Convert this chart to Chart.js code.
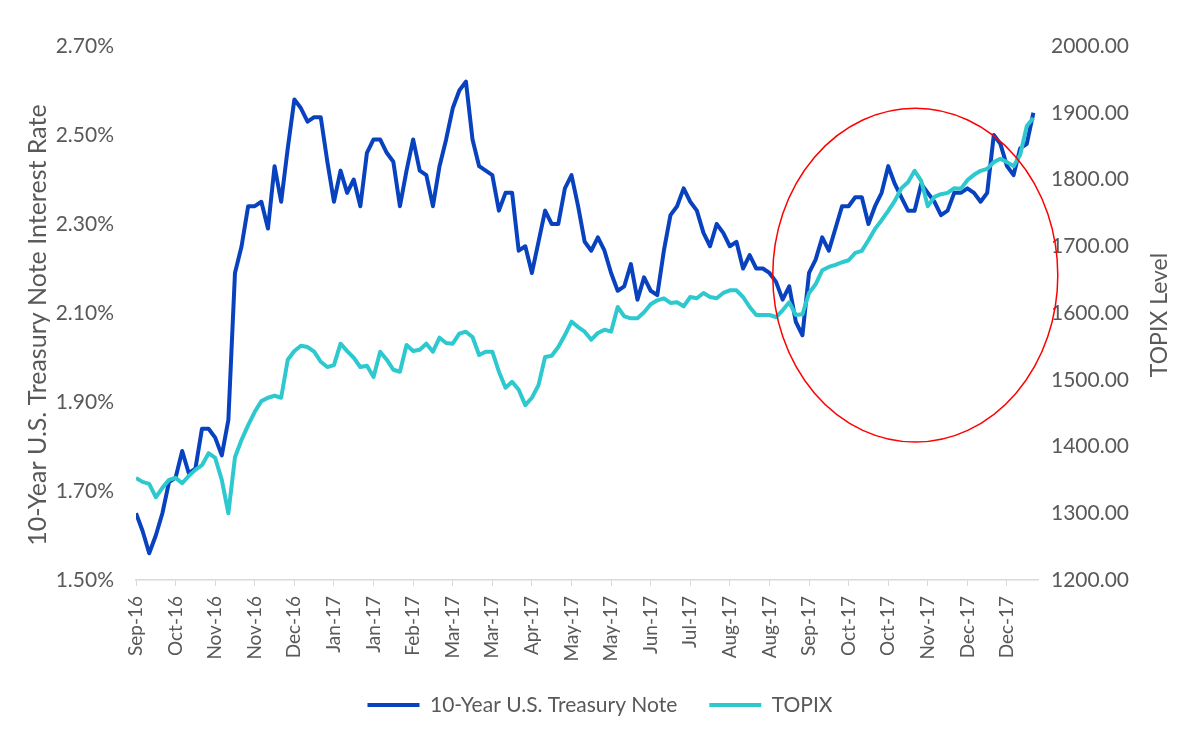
<!DOCTYPE html>
<html>
<head>
<meta charset="utf-8">
<script src="https://cdn.jsdelivr.net/npm/chart.js@4.4.1/dist/chart.umd.min.js"></script>
<style>
  html, body { margin: 0; padding: 0; background: #fff; }
  #wrap { width: 1200px; height: 742px; }
</style>
</head>
<body>
<div id="wrap"><canvas id="chart"></canvas></div>
<script>
// axis labels, one every 6 data points
const tickLabels = ['Sep-16', 'Oct-16', 'Nov-16', 'Nov-16', 'Dec-16', 'Jan-17', 'Jan-17', 'Feb-17',
    'Mar-17', 'Mar-17', 'Apr-17', 'May-17', 'May-17', 'Jun-17', 'Jul-17', 'Aug-17', 'Aug-17',
    'Sep-17', 'Oct-17', 'Oct-17', 'Nov-17', 'Dec-17', 'Dec-17'];
const pointsPerTick = 6;
const xMax = 136.7;

// 10-Year U.S. Treasury Note, % (left axis)
const treasuryRate = [
    1.65, 1.61, 1.56, 1.60, 1.65, 1.72, 1.73, 1.79, 1.74, 1.75,
    1.84, 1.84, 1.82, 1.78, 1.86, 2.19, 2.25, 2.34, 2.34, 2.35,
    2.29, 2.43, 2.35, 2.47, 2.58, 2.56, 2.53, 2.54, 2.54, 2.44,
    2.35, 2.42, 2.37, 2.40, 2.34, 2.46, 2.49, 2.49, 2.46, 2.44,
    2.34, 2.42, 2.49, 2.42, 2.41, 2.34, 2.43, 2.49, 2.56, 2.60,
    2.62, 2.49, 2.43, 2.42, 2.41, 2.33, 2.37, 2.37, 2.24, 2.25,
    2.19, 2.26, 2.33, 2.30, 2.30, 2.38, 2.41, 2.34, 2.26, 2.24,
    2.27, 2.24, 2.19, 2.15, 2.16, 2.21, 2.13, 2.18, 2.15, 2.14,
    2.24, 2.32, 2.34, 2.38, 2.35, 2.33, 2.28, 2.25, 2.30, 2.28,
    2.25, 2.26, 2.20, 2.23, 2.20, 2.20, 2.19, 2.17, 2.13, 2.16,
    2.08, 2.05, 2.19, 2.22, 2.27, 2.24, 2.29, 2.34, 2.34, 2.36,
    2.36, 2.30, 2.34, 2.37, 2.43, 2.39, 2.36, 2.33, 2.33, 2.39,
    2.37, 2.35, 2.32, 2.33, 2.37, 2.37, 2.38, 2.37, 2.35, 2.37,
    2.50, 2.48, 2.43, 2.41, 2.47, 2.48, 2.55
];

// TOPIX level (right axis)
const topixLevel = [
    1353, 1347, 1344, 1324, 1338, 1350, 1353, 1345, 1356, 1365,
    1372, 1390, 1383, 1350, 1300, 1384, 1410, 1432, 1452, 1468,
    1473, 1476, 1473, 1530, 1543, 1551, 1549, 1542, 1527, 1519,
    1522, 1554, 1543, 1533, 1519, 1521, 1504, 1542, 1530, 1515,
    1512, 1552, 1543, 1545, 1554, 1542, 1563, 1555, 1554, 1569,
    1572, 1564, 1537, 1542, 1542, 1512, 1488, 1497, 1485, 1462,
    1473, 1492, 1534, 1536, 1549, 1567, 1587, 1579, 1572, 1560,
    1570, 1575, 1572, 1609, 1595, 1592, 1592, 1601, 1613, 1619,
    1622, 1615, 1616, 1610, 1624, 1622, 1630, 1624, 1622, 1630,
    1634, 1634, 1624, 1609, 1597, 1597, 1597, 1594, 1604, 1616,
    1597, 1598, 1630, 1643, 1664, 1669, 1672, 1676, 1679, 1690,
    1693, 1709, 1726, 1739, 1753, 1768, 1787, 1796, 1813, 1798,
    1760, 1774, 1778, 1780, 1787, 1786, 1799, 1807, 1813, 1816,
    1826, 1831, 1826, 1820, 1837, 1880, 1892
];

// red highlight ellipse, in data units (x index, left-axis %)
const highlight = { x: 118.1, y: 2.185, rx: 21.6, ry: 0.375 };

const textColor = '#595959';
const fontFamily = 'Lato, "Open Sans", sans-serif';
const tickFont = { family: fontFamily, size: 19 };
const valueFont = { family: fontFamily, size: 21 };
const legendFont = { family: fontFamily, size: 21 };

function drawRotatedText(ctx, text, x, y, size) {
    ctx.save();
    ctx.translate(x, y);
    ctx.rotate(-Math.PI / 2);
    ctx.font = `${size}px ${fontFamily}`;
    ctx.fillStyle = textColor;
    ctx.textAlign = 'center';
    ctx.textBaseline = 'middle';
    ctx.fillText(text, 0, 0);
    ctx.restore();
}

const overlayPlugin = {
    id: 'overlay',
    afterDatasetsDraw(chart) {
        const { ctx, scales, chartArea } = chart;
        const sx = scales.x, sy = scales.y;
        const cx = sx.getPixelForValue(highlight.x);
        const cy = sy.getPixelForValue(highlight.y);
        const rx = sx.getPixelForValue(highlight.x + highlight.rx) - cx;
        const ry = cy - sy.getPixelForValue(highlight.y + highlight.ry);
        ctx.save();
        ctx.beginPath();
        ctx.ellipse(cx, cy, rx, ry, 0, 0, Math.PI * 2);
        ctx.strokeStyle = '#ff0000';
        ctx.lineWidth = 1.5;
        ctx.stroke();
        ctx.restore();

        // axis titles, both read bottom-to-top
        const midY = (chartArea.top + chartArea.bottom) / 2;
        drawRotatedText(ctx, '10-Year U.S. Treasury Note Interest Rate', scales.y.left + 38, midY + 12, 25);
        drawRotatedText(ctx, 'TOPIX Level', scales.y1.right - 40, midY + 2, 23);
    }
};

function drawChart() {
    new Chart(document.getElementById('chart'), {
        type: 'line',
        data: {
            datasets: [
                {
                    label: '10-Year U.S. Treasury Note',
                    data: treasuryRate.map((v, i) => ({ x: i, y: v })),
                    yAxisID: 'y',
                    borderColor: '#0842be',
                    backgroundColor: '#0842be',
                    borderWidth: 4,
                    borderJoinStyle: 'round',
                    pointRadius: 0,
                    tension: 0,
                    order: 1
                },
                {
                    label: 'TOPIX',
                    data: topixLevel.map((v, i) => ({ x: i, y: v })),
                    yAxisID: 'y1',
                    borderColor: '#2ec8cf',
                    backgroundColor: '#2ec8cf',
                    borderWidth: 4,
                    borderJoinStyle: 'round',
                    pointRadius: 0,
                    tension: 0,
                    order: 0
                }
            ]
        },
        options: {
            responsive: true,
            maintainAspectRatio: false,
            animation: false,
            layout: { padding: { top: 46, right: 0, bottom: 16.5, left: 0 } },
            plugins: {
                tooltip: { enabled: false },
                legend: {
                    position: 'bottom',
                    labels: {
                        usePointStyle: true,
                        pointStyle: 'line',
                        pointStyleWidth: 52,
                        padding: 32,
                        font: legendFont,
                        color: textColor,
                        sort: (a, b) => a.datasetIndex - b.datasetIndex
                    }
                }
            },
            scales: {
                x: {
                    type: 'linear',
                    min: 0,
                    max: xMax,
                    afterBuildTicks: axis => {
                        axis.ticks = tickLabels.map((_, k) => ({ value: k * pointsPerTick }));
                    },
                    ticks: {
                        autoSkip: false,
                        maxRotation: 90,
                        minRotation: 90,
                        padding: 10,
                        font: tickFont,
                        color: textColor,
                        callback: v => tickLabels[Math.round(v / pointsPerTick)]
                    },
                    grid: { drawOnChartArea: false, drawTicks: true, tickLength: 6, color: '#d9d9d9' },
                    border: { color: '#d9d9d9', width: 1.5 },
                    afterFit: s => { s.height = 82.5; }
                },
                y: {
                    position: 'left',
                    min: 1.5,
                    max: 2.7,
                    ticks: {
                        stepSize: 0.2,
                        padding: 22,
                        font: valueFont,
                        color: textColor,
                        callback: v => v.toFixed(2) + '%'
                    },
                    grid: { display: false, drawTicks: false },
                    border: { display: false },
                    afterFit: s => { s.width = 136; }
                },
                y1: {
                    position: 'right',
                    min: 1200,
                    max: 2000,
                    ticks: {
                        stepSize: 100,
                        padding: 13,
                        font: valueFont,
                        color: textColor,
                        callback: v => v.toFixed(2)
                    },
                    grid: { display: false, drawTicks: false },
                    border: { display: false },
                    afterFit: s => { s.width = 162; }
                }
            }
        },
        plugins: [overlayPlugin]
    });
}

if (document.fonts && document.fonts.load) {
    document.fonts.load('19px Lato').then(drawChart, drawChart);
} else {
    drawChart();
}
</script>
</body>
</html>
